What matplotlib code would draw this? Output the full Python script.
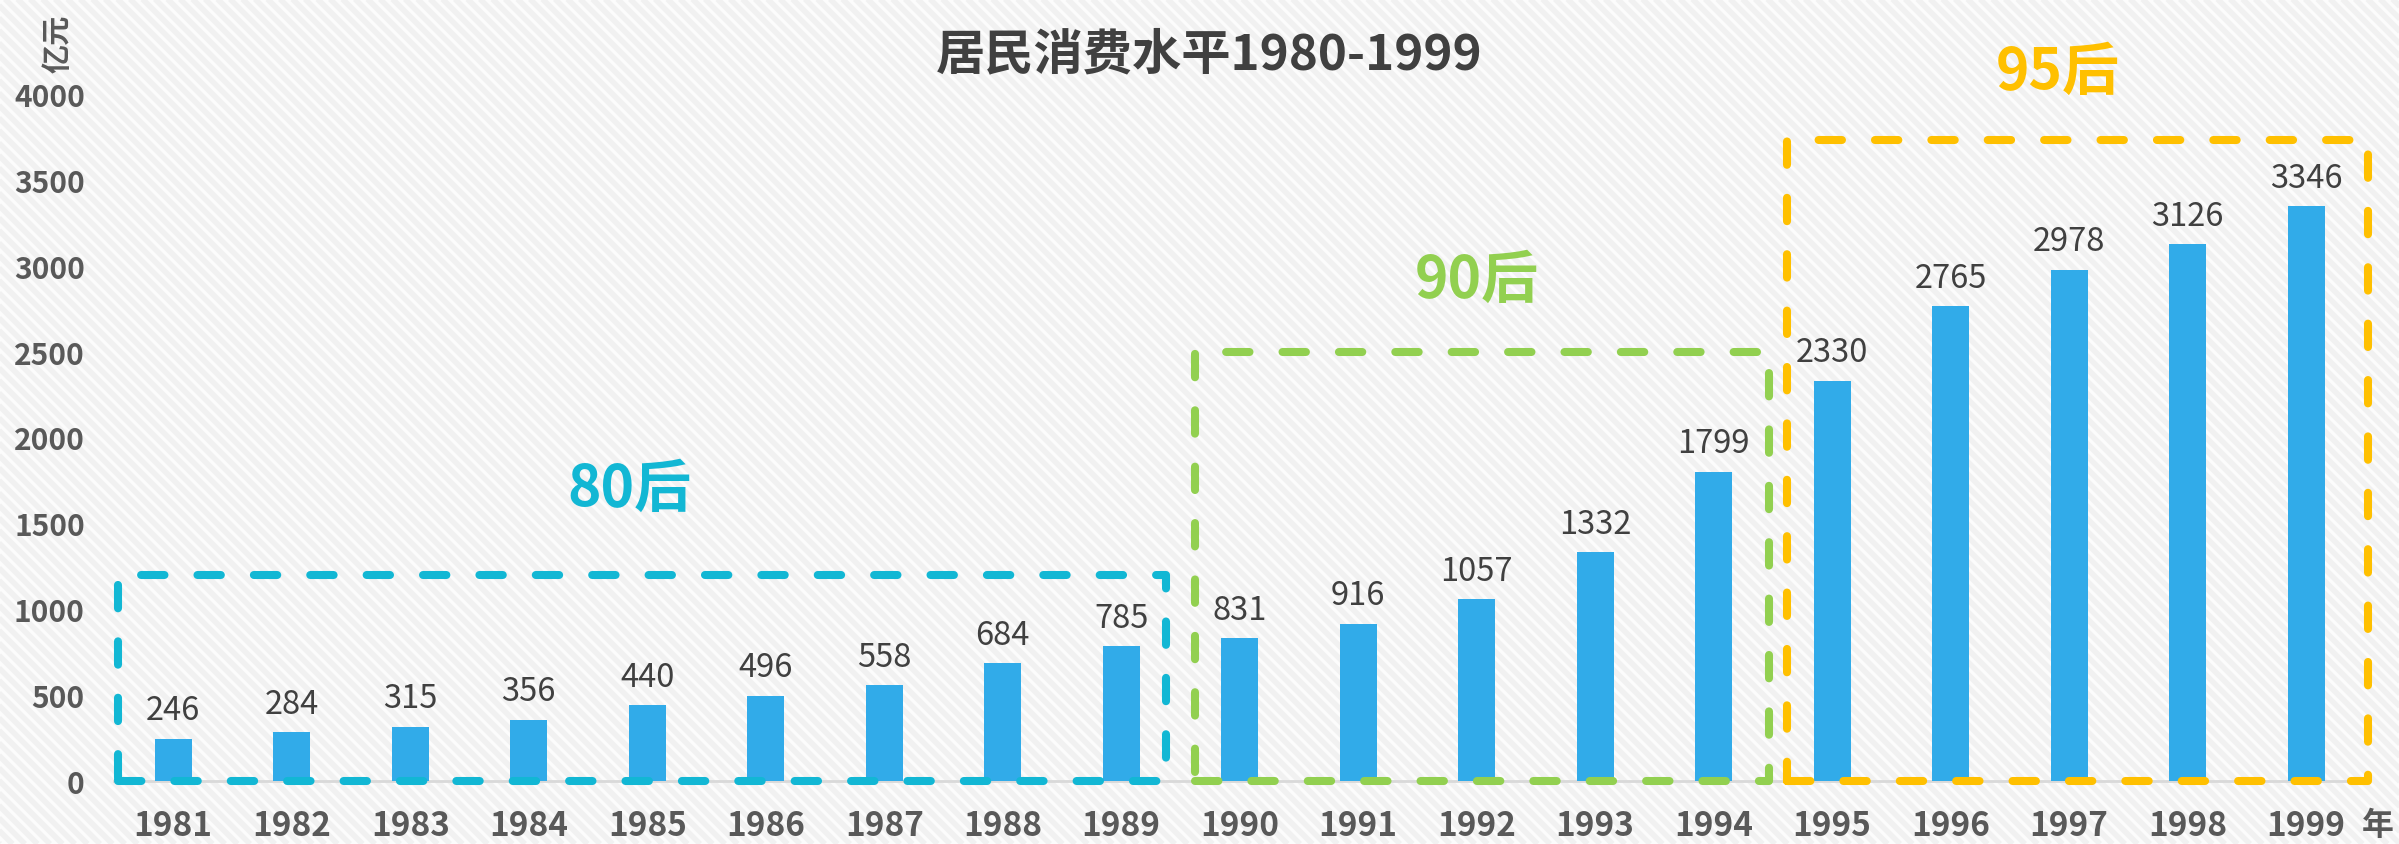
import matplotlib.pyplot as plt
import numpy as np
from matplotlib.collections import LineCollection

plt.rcParams['font.family'] = ['Noto Sans CJK SC', 'DejaVu Sans']

# data
years = ['1981', '1982', '1983', '1984', '1985', '1986', '1987', '1988', '1989', '1990',
         '1991', '1992', '1993', '1994', '1995', '1996', '1997', '1998', '1999']
values = [246, 284, 315, 356, 440, 496, 558, 684, 785, 831,
          916, 1057, 1332, 1799, 2330, 2765, 2978, 3126, 3346]

groups = ['80后', '90后', '95后']
group_first = ['1981', '1990', '1995']
group_last = ['1989', '1994', '1999']
group_top = [1200, 2500, 3730]

# layout / style
group_colors = ['#12b7d4', '#92d050', '#ffc000']
box_pad = [(0.47, 0.38), (0.38, 0.47), (0.38, 0.52)]
label_pos = [(3.85, 1700), (11.0, 2920), (15.9, 4130)]
bar_color = '#31abe9'

W, H = 2399, 845
fig = plt.figure(figsize=(W / 100, H / 100), dpi=100)
fig.patch.set_facecolor('#fcfcfc')

# faint diagonal stripes in the background
step = 12.5
starts = np.arange(-H, W + step, step)
segs = [[(s / W, 1), ((s + H) / W, 0)] for s in starts]
fig.add_artist(LineCollection(segs, transform=fig.transFigure, colors='#f1f1f1',
                              linewidths=4, zorder=-10))

ax = fig.add_axes([0.0475, 0.0746, 0.9385, 0.813])
ax.set_facecolor('none')

x = list(range(len(years)))
ax.bar(x, values, width=0.31, color=bar_color, zorder=2)
for xi, v in zip(x, values):
    ax.annotate(str(v), (xi, v), xytext=(0, 9), textcoords='offset points',
                ha='center', va='bottom', fontsize=23.5, color='#404040')

for name, a, b, top, c, (pl, pr), (lx, ly) in zip(groups, group_first, group_last, group_top,
                                                   group_colors, box_pad, label_pos):
    x0 = years.index(a) - pl
    x1 = years.index(b) + pr
    ax.plot([x0, x1, x1, x0, x0], [0, 0, top, top, 0], color=c, lw=5.8,
            linestyle=(0, (2.9, 4.1)), dash_capstyle='round', zorder=3, clip_on=False)
    ax.text(lx, ly, name, color=c, fontsize=41, fontweight='bold',
            ha='center', va='center', clip_on=False)

ax.set_xlim(-0.5, len(years) - 0.5)
ax.set_ylim(0, 4000)
ax.set_xticks(x)
ax.set_xticklabels(years, fontsize=24, fontweight='bold', color='#595959')
ax.set_yticks(range(0, 4001, 500))
ax.set_yticklabels([str(t) for t in range(0, 4001, 500)], fontsize=21.5,
                   fontweight='bold', color='#595959')
ax.tick_params(axis='both', length=0)
ax.tick_params(axis='x', pad=20)
ax.tick_params(axis='y', pad=21)
for s in ['top', 'right', 'left']:
    ax.spines[s].set_visible(False)
ax.spines['bottom'].set_color('#d9d9d9')
ax.spines['bottom'].set_linewidth(2)
ax.spines['bottom'].set_zorder(1)

fig.text(0.504, 0.935, '居民消费水平1980-1999', fontsize=35.5, fontweight='bold',
         color='#404040', ha='center', va='center')
fig.text(0.024, 0.948, '亿元', fontsize=21, fontweight='bold', color='#595959',
         rotation=90, ha='center', va='center')
fig.text(0.991, 0.0225, '年', fontsize=23, fontweight='bold', color='#595959',
         ha='center', va='center')

fig.savefig('out.png', dpi=100)
